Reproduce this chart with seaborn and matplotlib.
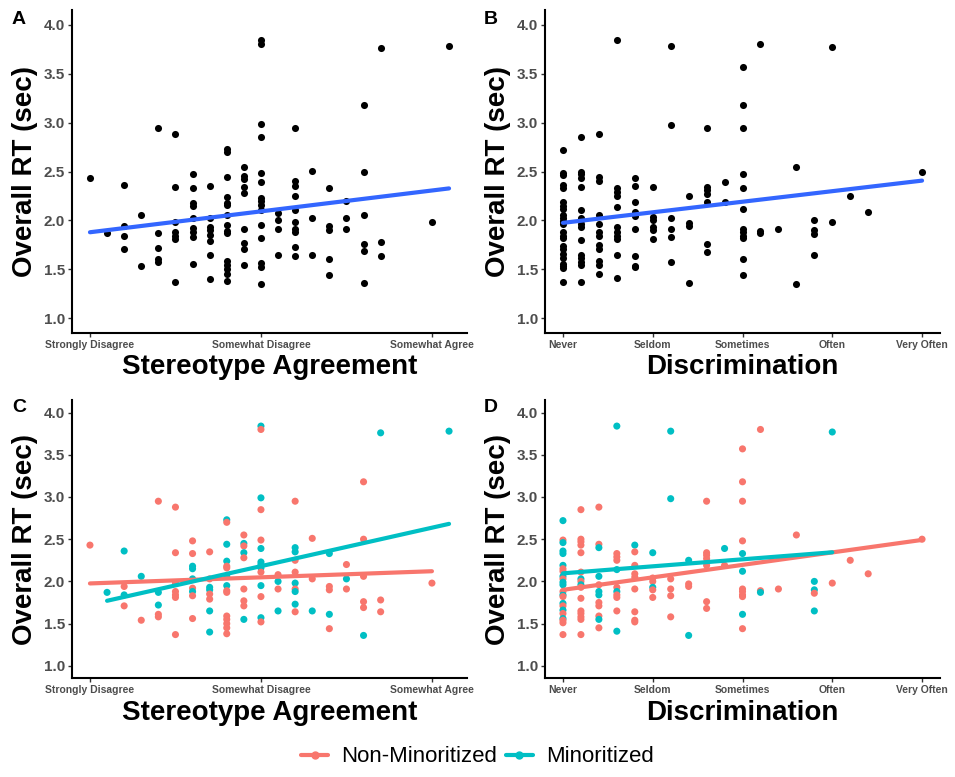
import numpy as np
import pandas as pd
import matplotlib.pyplot as plt
from matplotlib.lines import Line2D
import seaborn as sns

sns.set_style("ticks")
plt.rcParams["font.family"] = ["Liberation Sans", "DejaVu Sans"]
plt.rcParams["text.color"] = "black"
plt.rcParams["axes.labelcolor"] = "black"

RED = "#F8766D"
TEAL = "#00BFC4"
BLUE = "#3366FF"

# ====== Data: RT per response level, group code per point ======
# N = Non-Minoritized, M = Minoritized, X = no group recorded
stereo_levels = [1.0, 1.2, 1.4, 1.6, 1.8, 2.0, 2.2, 2.4, 2.6, 2.8,
                 3.0, 3.2, 3.4, 3.6, 3.8, 4.0, 4.2, 4.4, 5.0, 5.2]
stereo_rt = [
    [2.43],
    [1.87],
    [2.36, 1.94, 1.84, 1.71],
    [2.06, 1.54],
    [2.95, 1.87, 1.72, 1.61, 1.58],
    [2.88, 2.34, 1.98, 1.88, 1.84, 1.81, 1.37],
    [2.48, 2.33, 2.18, 2.15, 2.03, 1.92, 1.88, 1.83, 1.56],
    [2.35, 2.03, 1.93, 1.90, 1.85, 1.79, 1.65, 1.40],
    [2.73, 2.70, 2.44, 2.24, 2.18, 2.16, 2.06, 1.95, 1.89, 1.87, 1.59, 1.55, 1.50, 1.45, 1.38],
    [2.55, 2.45, 2.42, 2.34, 2.28, 1.91, 1.77, 1.71, 1.55],
    [3.84, 3.80, 2.99, 2.85, 2.49, 2.39, 2.23, 2.20, 2.16, 2.11, 1.95, 1.82, 1.57, 1.52, 1.35],
    [2.08, 2.00, 1.91, 1.65],
    [2.95, 2.40, 2.35, 2.25, 2.11, 1.98, 1.91, 1.88, 1.73, 1.64],
    [2.51, 2.03, 1.65],
    [2.33, 1.94, 1.90, 1.61, 1.44],
    [2.20, 2.03, 1.91],
    [3.18, 2.50, 2.06, 1.76, 1.69, 1.36],
    [3.76, 1.78, 1.64],
    [1.98],
    [3.78],
]
stereo_grp = ["N", "M", "MNMN", "MN", "NMMNN", "NNNNNNN", "NNMMMNMNN", "NNMMNNMM",
              "MNMMNNMMNNNNNNN", "NMNMNNNNM", "MNMNNMMMMNMNMNX", "NMNM", "NMMNNMNMMN",
              "NNM", "MNNMN", "NMN", "NNNNNM", "MNN", "N", "M"]

discr_levels = [1.0, 1.2, 1.4, 1.6, 1.8, 2.0, 2.2, 2.4, 2.6, 2.8,
                3.0, 3.2, 3.4, 3.6, 3.8, 4.0, 4.2, 4.4, 5.0]
discr_rt = [
    [2.72, 2.49, 2.46, 2.36, 2.33, 2.19, 2.15, 2.12, 2.06, 2.03, 1.99, 1.96,
     1.88, 1.84, 1.82, 1.74, 1.71, 1.66, 1.62, 1.56, 1.54, 1.51, 1.37],
    [2.85, 2.50, 2.47, 2.43, 2.34, 2.11, 2.03, 2.00, 1.96, 1.93, 1.80, 1.65, 1.62, 1.58, 1.55, 1.37],
    [2.88, 2.44, 2.40, 2.06, 1.96, 1.88, 1.84, 1.75, 1.71, 1.59, 1.55, 1.45],
    [3.84, 2.33, 2.29, 2.25, 2.14, 1.93, 1.88, 1.84, 1.81, 1.65, 1.41],
    [2.43, 2.35, 2.19, 2.09, 2.05, 1.91, 1.64, 1.54, 1.52],
    [2.34, 2.04, 2.00, 1.93, 1.90, 1.81],
    [3.78, 2.98, 2.03, 1.91, 1.83, 1.58],
    [2.25, 1.97, 1.94, 1.36],
    [2.95, 2.34, 2.31, 2.27, 2.19, 1.76, 1.68],
    [2.39, 2.19],
    [3.57, 3.18, 2.95, 2.48, 2.33, 2.12, 1.91, 1.88, 1.84, 1.82, 1.61, 1.44],
    [3.80, 1.89, 1.87],
    [1.91],
    [2.55, 1.35],
    [2.00, 1.90, 1.86, 1.65],
    [3.77, 1.98],
    [2.25],
    [2.09],
    [2.50],
]
discr_grp = ["MNMMMMNNMNMMNMNMNMNMNNN", "NNNNNNMNMNNNNNNN", "NNMMNMMNNNMN", "MNNNMNMNNNM",
             "MNNNNNNNN", "MNNMNN", "MMNNNN", "MNNM", "NNNNNNN", "MN",
             "NNNNMMNNNNMN", "NNM", "N", "NX", "MMNM", "MN", "N", "N", "N"]

stereo_ticks = [1, 3, 5]
stereo_labels = ["Strongly Disagree", "Somewhat Disagree", "Somewhat Agree"]
discr_ticks = [1, 2, 3, 4, 5]
discr_labels = ["Never", "Seldom", "Sometimes", "Often", "Very Often"]
group_names = {"N": "Non-Minoritized", "M": "Minoritized"}


def build(levels, rts, grps):
    rows = []
    for lvl, vals, codes in zip(levels, rts, grps):
        for v, c in zip(vals, codes):
            rows.append({"x": lvl, "rt": v, "group": c})
    return pd.DataFrame(rows)


stereo = build(stereo_levels, stereo_rt, stereo_grp)
discr = build(discr_levels, discr_rt, discr_grp)


def style_axis(ax, ticks, labels, xlim, xlabel):
    ax.set_xlim(xlim)
    ax.set_ylim(0.85, 4.15)
    yt = np.arange(1.0, 4.01, 0.5)
    ax.set_yticks(yt)
    ax.set_yticklabels([f"{v:.1f}" for v in yt])
    ax.set_xticks(ticks)
    ax.set_xticklabels(labels)
    ax.tick_params(axis="x", labelsize=7.5, colors="#333333", labelcolor="#4D4D4D",
                   length=3, width=1, pad=2)
    ax.tick_params(axis="y", labelsize=11, colors="#333333", labelcolor="#4D4D4D",
                   length=3, width=1, pad=2)
    for lab in ax.get_xticklabels() + ax.get_yticklabels():
        lab.set_fontweight("bold")
    for s in ["top", "right"]:
        ax.spines[s].set_visible(False)
    for s in ["left", "bottom"]:
        ax.spines[s].set_color("black")
        ax.spines[s].set_linewidth(1.5)
    ax.set_xlabel(xlabel, fontsize=20, fontweight="bold", labelpad=3, color="black")
    ax.set_ylabel("Overall RT (sec)", fontsize=20, fontweight="bold", labelpad=4, color="black")


fig = plt.figure(figsize=(9.55, 7.77), dpi=100)
ax_a = fig.add_axes([0.0754, 0.5714, 0.4136, 0.4156])
ax_b = fig.add_axes([0.5707, 0.5714, 0.4136, 0.4156])
ax_c = fig.add_axes([0.0754, 0.1268, 0.4136, 0.3585])
ax_d = fig.add_axes([0.5707, 0.1268, 0.4136, 0.3585])

# ====== Top row: all participants ======
for ax, df in [(ax_a, stereo), (ax_b, discr)]:
    sns.regplot(data=df, x="x", y="rt", ci=None, ax=ax,
                scatter_kws=dict(color="black", s=26, linewidths=0, alpha=1),
                line_kws=dict(color=BLUE, lw=3))

# ====== Bottom row: split by group ======
for ax, df in [(ax_c, stereo), (ax_d, discr)]:
    sub = df[df["group"] != "X"]
    sns.scatterplot(data=sub, x="x", y="rt", hue="group", palette={"N": RED, "M": TEAL},
                    s=26, linewidth=0, legend=False, ax=ax)
    for code, col in [("N", RED), ("M", TEAL)]:
        sns.regplot(data=sub[sub["group"] == code], x="x", y="rt", ci=None, ax=ax,
                    scatter=False, line_kws=dict(color=col, lw=3))

style_axis(ax_a, stereo_ticks, stereo_labels, (0.79, 5.41), "Stereotype Agreement")
style_axis(ax_c, stereo_ticks, stereo_labels, (0.79, 5.41), "Stereotype Agreement")
style_axis(ax_b, discr_ticks, discr_labels, (0.8, 5.2), "Discrimination")
style_axis(ax_d, discr_ticks, discr_labels, (0.8, 5.2), "Discrimination")

for letter, px, py in [("A", 19, 19), ("B", 491, 19), ("C", 19, 408), ("D", 491, 408)]:
    fig.text(px / 955, 1 - py / 777, letter, fontsize=14, fontweight="bold",
             color="black", ha="center", va="center")

handles = [Line2D([0], [0], color=RED, lw=3, marker="o", ms=5),
           Line2D([0], [0], color=TEAL, lw=3, marker="o", ms=5)]
fig.legend(handles, [group_names["N"], group_names["M"]], loc="center",
           bbox_to_anchor=(0.5, 1 - 757 / 777), ncol=2, frameon=False, fontsize=16,
           handlelength=1.2, handletextpad=0.6, columnspacing=0.4, labelcolor="black")

fig.savefig("out.png", dpi=100)
